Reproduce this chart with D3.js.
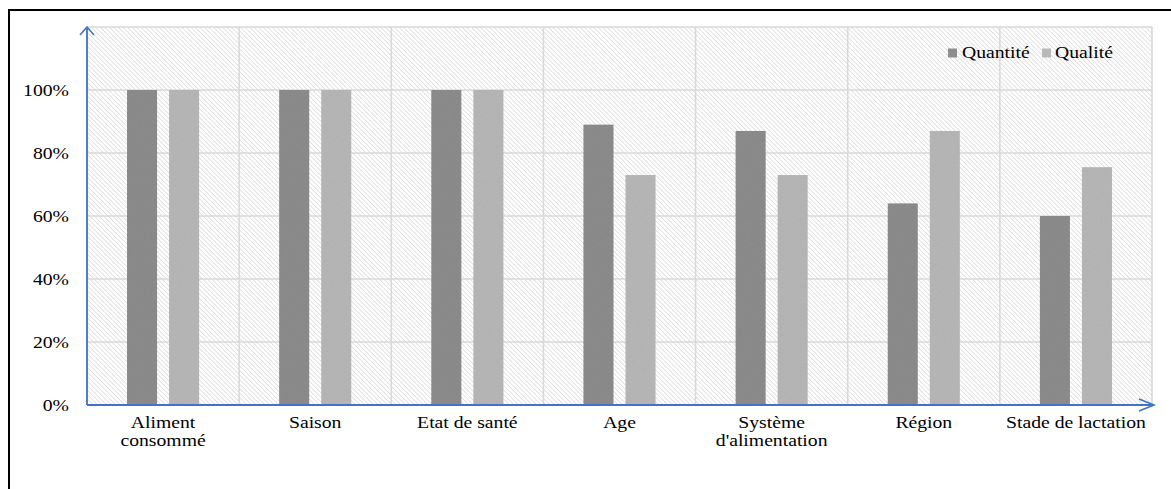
<!DOCTYPE html>
<html>
<head>
<meta charset="utf-8">
<script src="https://cdn.jsdelivr.net/npm/d3@7"></script>
<style>
  html, body { margin: 0; padding: 0; background: #fff; }
  svg { display: block; }
</style>
</head>
<body>
<svg id="chart" width="1171" height="489"></svg>
<script>
// Facteurs de variation : quantité et qualité du lait
const categories = [
  ["Aliment", "consommé"],
  ["Saison"],
  ["Etat de santé"],
  ["Age"],
  ["Système", "d'alimentation"],
  ["Région"],
  ["Stade de lactation"]
];
const seriesNames = ["Quantité", "Qualité"];
const quantite = [1.00, 1.00, 1.00, 0.89, 0.87, 0.64, 0.60];
const qualite  = [1.00, 1.00, 1.00, 0.73, 0.73, 0.87, 0.755];
const yTicks = [0, 0.2, 0.4, 0.6, 0.8, 1.0];
const gridTicks = [0, 0.2, 0.4, 0.6, 0.8, 1.0, 1.2];

const colors = { "Quantité": "#8e8e8e", "Qualité": "#b9b9b9" };
const FONT = "'Liberation Serif', 'Times New Roman', Tinos, 'DejaVu Serif', serif";
const FS = 16;
const SX = 1.23; // horizontal stretch of text glyphs

const svg = d3.select("#chart");
const defs = svg.append("defs");

// diagonal hatching for the plot background
const hatch = defs.append("pattern")
  .attr("id", "hatch")
  .attr("patternUnits", "userSpaceOnUse")
  .attr("width", 3.2).attr("height", 3.2)
  .attr("patternTransform", "rotate(-45)");
hatch.append("rect").attr("width", 3.2).attr("height", 3.2).attr("fill", "#ffffff");
hatch.append("line")
  .attr("x1", 0).attr("y1", 0).attr("x2", 0).attr("y2", 3.2)
  .attr("stroke", "#d2d2d2").attr("stroke-width", 1.2);

// fine grain on the bars
const grain = defs.append("filter").attr("id", "grain")
  .attr("x", 0).attr("y", 0).attr("width", 1).attr("height", 1);
grain.append("feTurbulence").attr("type", "fractalNoise")
  .attr("baseFrequency", 1.2).attr("numOctaves", 1).attr("seed", 3).attr("result", "noise");
grain.append("feColorMatrix").attr("in", "noise").attr("type", "matrix")
  .attr("values", "0 0 0 0 0  0 0 0 0 0  0 0 0 0 0  0 0 0 0.12 0").attr("result", "dots");
grain.append("feComposite").attr("in", "dots").attr("in2", "SourceGraphic").attr("operator", "in").attr("result", "dotsIn");
grain.append("feMerge").call(m => {
  m.append("feMergeNode").attr("in", "SourceGraphic");
  m.append("feMergeNode").attr("in", "dotsIn");
});

// outer frame (top and left edges visible)
svg.append("line").attr("x1", 8).attr("y1", 10).attr("x2", 1171).attr("y2", 10)
  .attr("stroke", "#000").attr("stroke-width", 2);
svg.append("line").attr("x1", 9).attr("y1", 9).attr("x2", 9).attr("y2", 489)
  .attr("stroke", "#000").attr("stroke-width", 2);

const plot = { left: 87, right: 1152, top: 27, bottom: 405 };

const x = d3.scaleBand()
  .domain(d3.range(categories.length))
  .range([plot.left, plot.right])
  .padding(0);

const xs = d3.scaleBand()
  .domain(seriesNames)
  .range([0, x.bandwidth()])
  .paddingInner(0.2857)
  .paddingOuter(0.952);

const y = d3.scaleLinear()
  .domain([0, 1.2])
  .range([plot.bottom, plot.top]);

// background
svg.append("rect")
  .attr("x", plot.left).attr("y", plot.top)
  .attr("width", plot.right - plot.left).attr("height", plot.bottom - plot.top)
  .attr("fill", "url(#hatch)");

// gridlines
const grid = svg.append("g").attr("stroke", "#d9d9d9").attr("stroke-width", 1.6);
grid.selectAll("line.h").data(gridTicks).join("line")
  .attr("class", "h")
  .attr("x1", plot.left).attr("x2", plot.right)
  .attr("y1", d => y(d)).attr("y2", d => y(d));
grid.selectAll("line.v").data(d3.range(categories.length + 1)).join("line")
  .attr("class", "v")
  .attr("x1", i => i < categories.length ? x(i) : plot.right)
  .attr("x2", i => i < categories.length ? x(i) : plot.right)
  .attr("y1", plot.top).attr("y2", plot.bottom);

// bars
const rows = categories.map((c, i) => ({ i, values: [
  { key: "Quantité", v: quantite[i] },
  { key: "Qualité", v: qualite[i] }
]}));
const groups = svg.append("g").selectAll("g").data(rows).join("g")
  .attr("transform", d => `translate(${x(d.i)},0)`);
groups.selectAll("rect").data(d => d.values).join("rect")
  .attr("x", d => xs(d.key))
  .attr("width", xs.bandwidth())
  .attr("y", d => y(d.v))
  .attr("height", d => y(0) - y(d.v))
  .attr("fill", d => colors[d.key])
  .attr("filter", "url(#grain)");

// y axis labels
const yAxis = d3.axisLeft(y).tickValues(yTicks).tickFormat(d3.format(".0%")).tickSize(0).tickPadding(0);
const yg = svg.append("g").attr("transform", `translate(${plot.left},0)`).call(yAxis);
yg.attr("font-family", null).attr("font-size", null);
yg.select(".domain").remove();
yg.selectAll(".tick text")
  .style("font-family", FONT)
  .style("font-size", FS + "px")
  .attr("fill", "#000")
  .attr("x", 0).attr("dy", "0.32em")
  .attr("transform", `translate(-18,0) scale(${SX},1)`);

// x axis labels
const xAxis = d3.axisBottom(x).tickSize(0).tickFormat("");
const xg = svg.append("g").attr("transform", `translate(0,${plot.bottom})`).call(xAxis);
xg.attr("font-family", null).attr("font-size", null);
xg.select(".domain").remove();
xg.selectAll(".tick text").remove();
xg.selectAll(".tick").each(function(i) {
  const t = d3.select(this).append("text")
    .style("font-family", FONT)
    .style("font-size", FS + "px")
    .attr("fill", "#000")
    .attr("text-anchor", "middle")
    .attr("transform", `scale(${SX},1)`);
  categories[i].forEach((line, k) => {
    t.append("tspan").attr("x", 0).attr("y", 23 + k * 18).text(line);
  });
});

// axis lines with open arrowheads
const blue = "#4472c4";
svg.append("line").attr("x1", plot.left).attr("y1", plot.bottom)
  .attr("x2", plot.left).attr("y2", plot.top)
  .attr("stroke", blue).attr("stroke-width", 1.8);
svg.append("path")
  .attr("d", `M${plot.left - 7},${plot.top + 8} L${plot.left},${plot.top} L${plot.left + 7},${plot.top + 8}`)
  .attr("fill", "none").attr("stroke", blue).attr("stroke-width", 1.6);
svg.append("line").attr("x1", plot.left).attr("y1", plot.bottom)
  .attr("x2", plot.right + 2).attr("y2", plot.bottom)
  .attr("stroke", blue).attr("stroke-width", 1.8);
svg.append("path")
  .attr("d", `M${plot.right - 13},${plot.bottom - 6} L${plot.right + 2},${plot.bottom} L${plot.right - 13},${plot.bottom + 6}`)
  .attr("fill", "none").attr("stroke", blue).attr("stroke-width", 1.6);

// legend
const legendItems = [
  { key: "Quantité", mx: 948, tx: 962 },
  { key: "Qualité", mx: 1042, tx: 1055 }
];
const lg = svg.append("g");
legendItems.forEach(it => {
  lg.append("rect").attr("x", it.mx).attr("y", 48.5).attr("width", 9).attr("height", 9)
    .attr("fill", colors[it.key]);
  lg.append("text")
    .style("font-family", FONT)
    .style("font-size", FS + "px")
    .attr("fill", "#000")
    .attr("transform", `translate(${it.tx},57.5) scale(${SX},1)`)
    .text(it.key);
});
</script>
</body>
</html>
